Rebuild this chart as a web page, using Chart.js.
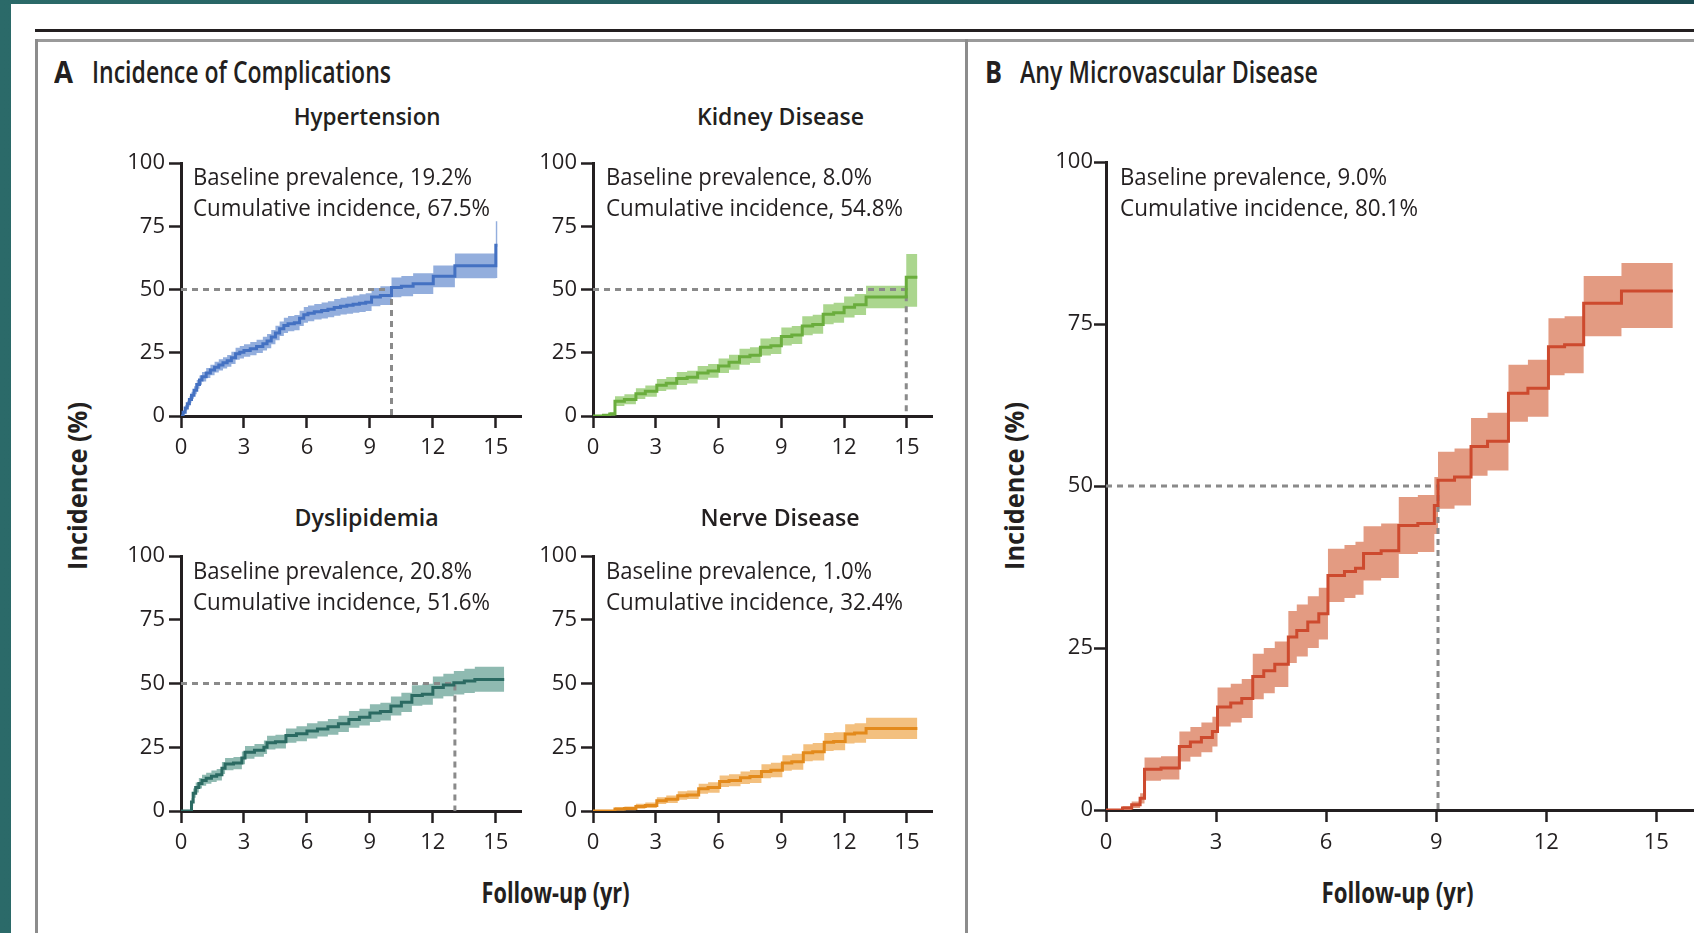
<!DOCTYPE html>
<html>
<head>
<meta charset="utf-8">
<title>Incidence of Complications</title>
<script src="https://cdn.jsdelivr.net/npm/chart.js@4.4.1/dist/chart.umd.min.js"></script>
<style>
  html, body { margin: 0; padding: 0; }
  body { width: 1694px; height: 933px; position: relative; overflow: hidden;
         background: linear-gradient(90deg, #2b6a69 0%, #215a5d 55%, #1a4a50 100%); }
  #sheet { position: absolute; left: 11px; top: 4px; right: 0; bottom: 0; background: #fff; }
  .rule { position: absolute; }
  .txt { position: absolute; white-space: pre; color: #231f20; margin: 0; }
  canvas.plot { position: absolute; }
</style>
</head>
<body>
<div id="sheet"></div>
<div class="rule" style="left:35px;right:0;top:29px;height:3px;background:#231f20"></div>
<div class="rule" style="left:35px;right:0;top:39px;height:3px;background:#9a9a9a"></div>
<div class="rule" style="left:35px;width:3px;top:39px;bottom:0;background:#8c8c8c"></div>
<div class="rule" style="left:965px;width:3px;top:39px;bottom:0;background:#8c8c8c"></div>

<script>
// ---- data ----
var xTicks = [0, 3, 6, 9, 12, 15];
var yTicks = [0, 25, 50, 75, 100];

// Hypertension
var htnT  = [0, 0.1, 0.2, 0.3, 0.4, 0.5, 0.62, 0.75, 0.88, 1.0, 1.2, 1.4, 1.6, 1.8, 2.0, 2.2, 2.4, 2.6, 2.8, 3.0, 3.3, 3.6, 3.9, 4.1, 4.3, 4.5, 4.7, 4.9, 5.1, 5.4, 5.65, 5.85, 6.05, 6.35, 6.7, 7.0, 7.3, 7.6, 7.9, 8.2, 8.5, 8.8, 9.08, 9.5, 10.03, 10.5, 11.06, 12.02, 13.05, 15.0, 15.08];
var htnV  = [0, 1.5, 3.2, 4.8, 6.5, 8.2, 10.2, 12.5, 14.2, 15.5, 17.0, 18.2, 19.3, 20.2, 21.0, 21.8, 23.0, 24.6, 25.2, 25.9, 26.6, 27.5, 28.6, 29.6, 31.2, 32.8, 34.5, 35.8, 36.5, 36.9, 38.6, 40.0, 40.6, 41.2, 41.7, 42.2, 42.9, 43.4, 43.8, 44.2, 44.6, 45.0, 47.0, 47.6, 50.8, 51.3, 52.3, 55.2, 59.4, 67.5, 67.5];
var htnHi = [0, 2.3, 4.3, 6.0, 7.8, 9.6, 11.8, 14.2, 16.0, 17.4, 19.0, 20.3, 21.4, 22.4, 23.2, 24.1, 25.4, 27.0, 27.7, 28.4, 29.2, 30.1, 31.3, 32.4, 34.0, 35.7, 37.4, 38.8, 39.5, 39.9, 41.6, 43.1, 43.7, 44.3, 44.9, 45.4, 46.2, 46.7, 47.2, 47.6, 48.1, 48.5, 50.6, 51.3, 54.7, 55.3, 56.4, 59.5, 64.2, 77.0, 77.0];
var htnLo = [0, 0.8, 2.2, 3.6, 5.2, 6.8, 8.6, 10.8, 12.4, 13.6, 15.0, 16.1, 17.2, 18.0, 18.8, 19.5, 20.6, 22.2, 22.7, 23.4, 24.0, 24.9, 25.9, 26.8, 28.4, 29.9, 31.6, 32.8, 33.5, 33.9, 35.6, 36.9, 37.5, 38.1, 38.5, 39.0, 39.6, 40.1, 40.4, 40.8, 41.1, 41.5, 43.4, 43.9, 46.9, 47.3, 48.2, 50.9, 54.4, 54.5, 54.5];
var htnHalf = 10.03;

// Kidney disease
var kidT  = [0, 0.5, 0.8, 1.05, 1.5, 2.05, 2.5, 3.05, 3.5, 4.0, 4.5, 5.0, 5.5, 6.0, 6.5, 7.0, 7.5, 8.0, 8.5, 9.0, 9.5, 10.0, 10.5, 11.0, 11.5, 12.0, 12.5, 13.05, 14.97, 15.5];
var kidV  = [0, 0.3, 0.8, 5.8, 6.5, 8.8, 9.8, 12.2, 12.9, 14.8, 15.3, 17.0, 17.8, 19.8, 21.2, 23.4, 24.0, 27.2, 27.8, 31.4, 32.0, 35.6, 36.2, 40.2, 40.8, 43.0, 44.0, 47.0, 54.8, 54.8];
var kidHi = [0, 0.8, 1.6, 7.8, 8.6, 11.0, 12.1, 14.6, 15.4, 17.4, 17.9, 19.8, 20.6, 22.7, 24.2, 26.6, 27.2, 30.6, 31.2, 35.0, 35.6, 39.4, 40.0, 44.2, 44.8, 47.2, 48.2, 51.5, 64.0, 64.0];
var kidLo = [0, 0, 0.2, 4.0, 4.6, 6.7, 7.6, 9.9, 10.5, 12.3, 12.8, 14.3, 15.1, 17.0, 18.3, 20.3, 20.9, 23.9, 24.5, 27.9, 28.5, 31.9, 32.5, 36.3, 36.9, 38.9, 39.9, 42.6, 43.2, 43.2];
var kidHalf = 14.97;

// Dyslipidemia
var dysT  = [0, 0.45, 0.5, 0.58, 0.7, 0.85, 1.0, 1.2, 1.45, 1.7, 1.95, 2.1, 2.5, 2.9, 3.05, 3.5, 3.95, 4.1, 4.5, 5.0, 5.5, 6.0, 6.5, 7.0, 7.5, 8.0, 8.5, 9.0, 9.5, 10.0, 10.5, 11.0, 11.5, 12.0, 12.5, 13.0, 13.5, 14.0, 15.4];
var dysV  = [0, 0, 3.5, 7.0, 9.2, 10.8, 12.0, 12.8, 13.6, 14.2, 16.8, 18.4, 18.8, 20.8, 23.0, 23.8, 25.0, 26.8, 27.2, 29.6, 30.3, 31.4, 32.2, 33.0, 34.2, 35.9, 36.8, 38.4, 39.0, 41.2, 42.6, 45.3, 45.8, 48.4, 49.4, 50.3, 51.0, 51.6, 51.6];
var dysHi = [0, 0, 5.0, 8.8, 11.2, 12.9, 14.2, 15.0, 15.9, 16.5, 19.2, 20.8, 21.2, 23.3, 25.5, 26.3, 27.6, 29.5, 29.9, 32.4, 33.2, 34.4, 35.2, 36.1, 37.4, 39.2, 40.1, 41.9, 42.5, 44.9, 46.4, 49.3, 49.9, 52.7, 53.8, 54.9, 55.8, 56.6, 56.6];
var dysLo = [0, 0, 2.0, 5.2, 7.3, 8.8, 9.9, 10.7, 11.4, 12.0, 14.5, 16.0, 16.4, 18.3, 20.5, 21.3, 22.4, 24.1, 24.5, 26.8, 27.4, 28.4, 29.2, 29.9, 31.0, 32.6, 33.5, 34.9, 35.5, 37.5, 38.8, 41.3, 41.7, 44.1, 45.0, 45.7, 46.3, 46.8, 46.8];
var dysHalf = 13.05;

// Nerve disease
var nrvT  = [0, 1.05, 1.5, 2.05, 2.5, 3.05, 3.5, 4.05, 4.5, 5.05, 5.5, 6.05, 6.5, 7.05, 7.5, 8.05, 8.5, 9.05, 9.5, 10.05, 10.5, 11.05, 11.5, 12.05, 12.5, 13.05, 15.5];
var nrvV  = [0, 0.8, 1.0, 1.8, 2.2, 4.0, 4.6, 6.0, 6.3, 8.7, 9.2, 11.6, 12.0, 13.0, 13.5, 15.5, 16.0, 18.8, 19.3, 22.8, 23.2, 27.0, 27.3, 30.2, 30.6, 32.4, 32.4];
var nrvHi = [0, 1.5, 1.8, 2.8, 3.3, 5.4, 6.1, 7.7, 8.0, 10.7, 11.3, 13.9, 14.4, 15.5, 16.1, 18.3, 18.9, 21.9, 22.5, 26.2, 26.7, 30.6, 30.9, 34.0, 34.4, 36.6, 36.6];
var nrvLo = [0, 0.2, 0.3, 0.9, 1.2, 2.7, 3.1, 4.4, 4.7, 6.8, 7.2, 9.4, 9.7, 10.6, 11.0, 12.8, 13.2, 15.8, 16.2, 19.5, 19.8, 23.5, 23.8, 26.5, 26.8, 28.2, 28.2];
var nrvHalf = null;

// Any microvascular disease
var micT  = [0, 0.45, 0.7, 0.93, 1.05, 1.5, 2.0, 2.3, 2.6, 2.9, 3.04, 3.4, 3.7, 4.0, 4.3, 4.6, 4.97, 5.2, 5.5, 5.8, 6.05, 6.5, 6.8, 7.02, 7.5, 7.98, 8.5, 8.95, 9.05, 9.5, 9.95, 10.4, 10.97, 11.5, 12.06, 12.5, 13.02, 14.05, 15.45];
var micV  = [0, 0.3, 0.8, 1.8, 6.3, 6.5, 9.8, 10.5, 11.2, 12.1, 15.9, 16.5, 17.2, 20.6, 21.5, 22.5, 26.7, 27.7, 29.0, 30.3, 36.2, 36.8, 37.3, 39.6, 40.0, 43.9, 44.2, 47.0, 50.9, 51.4, 56.1, 56.9, 64.3, 65.1, 71.5, 71.8, 78.2, 80.1, 80.1];
var micHi = [0, 0.6, 1.3, 2.6, 8.1, 8.3, 12.1, 12.8, 13.5, 14.4, 18.9, 19.5, 20.2, 24.1, 25.0, 26.0, 30.7, 31.7, 33.0, 34.3, 40.3, 40.9, 41.4, 43.8, 44.2, 48.3, 48.6, 51.4, 55.3, 55.8, 60.5, 61.3, 68.7, 69.5, 75.9, 76.2, 82.4, 84.4, 84.4];
var micLo = [0, 0, 0.3, 1.0, 4.5, 4.7, 7.5, 8.2, 8.9, 9.8, 12.9, 13.5, 14.2, 17.1, 18.0, 19.0, 22.7, 23.7, 25.0, 26.3, 32.1, 32.7, 33.2, 35.4, 35.8, 39.5, 39.8, 42.6, 46.5, 47.0, 51.6, 52.4, 59.9, 60.7, 67.1, 67.4, 73.1, 74.4, 74.4];
var micHalf = 9.05;

// ---- helpers ----
var INK = '#231f20';
var mctx = document.createElement('canvas').getContext('2d');

function hasFont(name) {
  mctx.font = '40px monospace';
  var a = mctx.measureText('100 Wgil').width;
  mctx.font = '40px "' + name + '", monospace';
  return mctx.measureText('100 Wgil').width !== a;
}
var narrow = hasFont('Liberation Sans Narrow');
var TICK_FAMILY = narrow ? '"Liberation Sans Narrow", sans-serif' : '"Open Sans", sans-serif';
var TICK_SIZE = narrow ? 23 : 22;

// text placed by its baseline, squeezed to the width measured on the figure
function put(txt, o) {
  var el = document.createElement('div');
  el.className = 'txt';
  el.textContent = txt;
  var font = (o.weight || 400) + ' ' + o.size + 'px "Open Sans", sans-serif';
  el.style.font = font;
  el.style.lineHeight = o.size + 'px';
  mctx.font = font;
  var m = mctx.measureText(txt);
  var A = m.fontBoundingBoxAscent, D = m.fontBoundingBoxDescent;
  var baseOff = (o.size - (A + D)) / 2 + A;
  var w = m.width;
  var s = o.w ? o.w / w : 1;
  var ox = o.align === 'center' ? w / 2 : 0;
  el.style.left = (o.x - ox) + 'px';
  el.style.top = (o.base - baseOff) + 'px';
  el.style.transformOrigin = ox + 'px ' + baseOff + 'px';
  el.style.transform = (o.rot ? 'rotate(' + o.rot + 'deg) ' : '') + 'scaleX(' + s + ')';
  document.body.appendChild(el);
}

function pts(t, v) {
  return t.map(function(x, i) { return { x: x, y: v[i] }; });
}

function axis(list, max, isX, pad) {
  return {
    type: 'linear', min: 0, max: max,
    afterBuildTicks: function(sc) { sc.ticks = list.map(function(v) { return { value: v }; }); },
    afterFit: function(sc) { if (isX) sc.height = 50; else sc.width = 70; },
    grid: { display: true, drawOnChartArea: false, drawTicks: true, tickLength: 12,
            tickWidth: 2.5, tickColor: INK, color: INK },
    border: { display: true, color: INK, width: 3 },
    ticks: { padding: pad, color: INK, autoSkip: false, maxRotation: 0,
             font: { family: TICK_FAMILY, size: TICK_SIZE } }
  };
}

function kmChart(box, s) {
  var YW = 70, PT = 20, PR = 16, XH = 50;
  var canvas = document.createElement('canvas');
  canvas.className = 'plot';
  canvas.width = box.r - box.l + YW + PR;
  canvas.height = box.b - box.t + PT + XH;
  canvas.style.left = (box.l - YW) + 'px';
  canvas.style.top = (box.t - PT) + 'px';
  document.body.appendChild(canvas);

  var ds = [{ data: pts(s.t, s.v), borderColor: s.line, borderWidth: 3, stepped: true,
              pointRadius: 0, fill: false }];
  if (s.half != null) {
    ds.push({ data: [{ x: 0, y: 50 }, { x: s.half, y: 50 }, { x: s.half, y: 0 }],
              borderColor: '#8a8a8a', borderWidth: 3, borderDash: [6, 5], pointRadius: 0, fill: false });
  }
  ds.push({ data: pts(s.t, s.hi), borderWidth: 0, borderColor: 'rgba(0,0,0,0)', backgroundColor: s.band,
            stepped: true, pointRadius: 0, fill: '+1' });
  ds.push({ data: pts(s.t, s.lo), borderWidth: 0, borderColor: 'rgba(0,0,0,0)',
            stepped: true, pointRadius: 0, fill: false });

  return new Chart(canvas, {
    type: 'line',
    data: { datasets: ds },
    options: {
      responsive: false, animation: false, events: [],
      layout: { padding: { top: PT, right: PR, left: 0, bottom: 0 } },
      plugins: { legend: { display: false }, tooltip: { enabled: false } },
      scales: {
        x: axis(xTicks, box.xmax, true, box.xpad),
        y: axis(yTicks, 100, false, box.ypad)
      }
    }
  });
}

// ---- panels ----
kmChart({ l: 181, t: 163, r: 521, b: 416, xmax: 16.2, xpad: 7, ypad: 4 },
  { t: htnT, v: htnV, hi: htnHi, lo: htnLo, half: htnHalf, line: '#4471c2', band: '#93aedd' });
kmChart({ l: 593, t: 163, r: 932, b: 416, xmax: 16.2, xpad: 7, ypad: 4 },
  { t: kidT, v: kidV, hi: kidHi, lo: kidLo, half: kidHalf, line: '#6aad3d', band: '#abd68e' });
kmChart({ l: 181, t: 556, r: 521, b: 811, xmax: 16.2, xpad: 7, ypad: 4 },
  { t: dysT, v: dysV, hi: dysHi, lo: dysLo, half: dysHalf, line: '#2b6a62', band: '#8fbab1' });
kmChart({ l: 593, t: 556, r: 932, b: 811, xmax: 16.2, xpad: 7, ypad: 4 },
  { t: nrvT, v: nrvV, hi: nrvHi, lo: nrvLo, half: nrvHalf, line: '#e38a1c', band: '#f3c07f' });
kmChart({ l: 1106, t: 162, r: 1693, b: 810, xmax: 16.0, xpad: 8, ypad: 1 },
  { t: micT, v: micV, hi: micHi, lo: micLo, half: micHalf, line: '#cd4a2e', band: '#e39b82' });

// ---- text ----
put('A', { x: 53.5, base: 83.3, size: 30, weight: 700, w: 19 });
put('Incidence of Complications', { x: 91.7, base: 83.3, size: 30, weight: 600, w: 299 });
put('B', { x: 985, base: 83.3, size: 30, weight: 700, w: 17 });
put('Any Microvascular Disease', { x: 1020, base: 83.3, size: 30, weight: 600, w: 298 });

put('Hypertension', { x: 367, base: 125, size: 23, weight: 600, w: 147, align: 'center' });
put('Kidney Disease', { x: 780.5, base: 125, size: 23, weight: 600, w: 167, align: 'center' });
put('Dyslipidemia', { x: 367, base: 526, size: 23, weight: 600, w: 144, align: 'center' });
put('Nerve Disease', { x: 780.5, base: 526, size: 23, weight: 600, w: 159, align: 'center' });

put('Baseline prevalence, 19.2%', { x: 192.7, base: 185, size: 23, w: 279 });
put('Cumulative incidence, 67.5%', { x: 192.7, base: 216.7, size: 23, w: 297 });
put('Baseline prevalence, 8.0%', { x: 606, base: 185, size: 23, w: 266 });
put('Cumulative incidence, 54.8%', { x: 606, base: 216.7, size: 23, w: 297 });
put('Baseline prevalence, 20.8%', { x: 192.7, base: 579.3, size: 23, w: 279 });
put('Cumulative incidence, 51.6%', { x: 192.7, base: 610.7, size: 23, w: 297 });
put('Baseline prevalence, 1.0%', { x: 606, base: 579.3, size: 23, w: 266 });
put('Cumulative incidence, 32.4%', { x: 606, base: 610.7, size: 23, w: 297 });
put('Baseline prevalence, 9.0%', { x: 1119.5, base: 185, size: 23, w: 267 });
put('Cumulative incidence, 80.1%', { x: 1119.5, base: 216.7, size: 23, w: 298 });

put('Follow-up (yr)', { x: 556, base: 903.3, size: 28, weight: 700, w: 148, align: 'center' });
put('Follow-up (yr)', { x: 1398, base: 903.3, size: 28, weight: 700, w: 152, align: 'center' });
put('Incidence (%)', { x: 87, base: 486, size: 27, weight: 700, w: 168, align: 'center', rot: -90 });
put('Incidence (%)', { x: 1024, base: 486, size: 27, weight: 700, w: 168, align: 'center', rot: -90 });
</script>
</body>
</html>
